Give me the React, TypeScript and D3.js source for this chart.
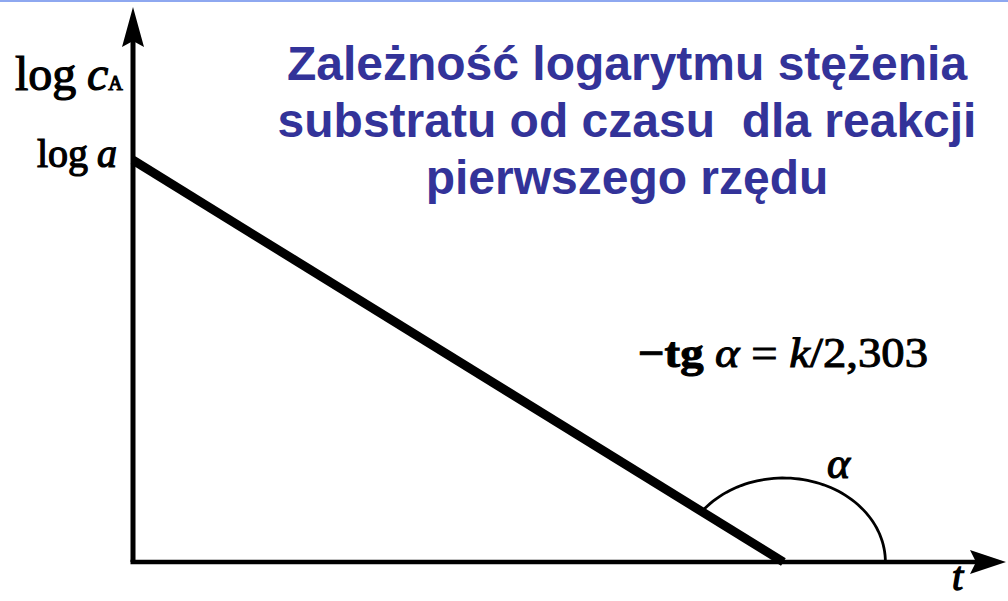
import React from 'react';
import * as d3 from 'd3';

const W = 1008;
const H = 601;

// axis extents (arbitrary units, origin at 0)
const axisDomainT = [0, 10];
const axisDomainLogC = [0, 10];

// first-order decay line: log c_A vs t
const lineT = [0, 7.45];
const lineLogC = [7.24, 0];

const titleLines = [
  'Zależność logarytmu stężenia',
  'substratu od czasu  dla reakcji',
  'pierwszego rzędu',
];

const x = d3.scaleLinear().domain(axisDomainT).range([133, 1006]);
const y = d3.scaleLinear().domain(axisDomainLogC).range([562, 7]);

const serif = '"Liberation Serif", "DejaVu Serif", serif';
const sans = '"Liberation Sans", Arial, sans-serif';

export default function App() {
  const pts: [number, number][] = lineT.map((t, i) => [x(t), y(lineLogC[i])]);
  const decay = d3.line()(pts);

  const ox = x(0), oy = y(0);
  const tipX = x(axisDomainT[1]), tipY = y(axisDomainLogC[1]);

  // angle mark: elliptical arc around the x-intercept, from the line down to the t axis
  const cx = x(lineT[1]), cy = y(0);
  const rx = 102, ry = 84;
  const slope = (pts[1][1] - pts[0][1]) / (pts[1][0] - pts[0][0]);
  const u = 1 / Math.sqrt(1 / (rx * rx) + (slope * slope) / (ry * ry));
  const thetaMax = Math.atan2((slope * u) / ry, -u / rx);
  const arcPts: [number, number][] = d3.range(0, 61).map(i => {
    const th = (thetaMax * i) / 60;
    return [cx + rx * Math.cos(th), cy - ry * Math.sin(th)];
  });
  const arcPath = d3.line()(arcPts);

  return (
    <svg width={W} height={H} style={{ position: 'absolute', left: 0, top: 0, background: '#fff' }}>
      <rect x={0} y={0} width={W} height={2} fill="#8ea8f0" />

      {/* axes */}
      <line x1={ox} y1={oy} x2={ox} y2={tipY + 30} stroke="#000" strokeWidth={5} />
      <line x1={ox - 2.5} y1={oy} x2={tipX - 25} y2={oy} stroke="#000" strokeWidth={4.5} />
      <path d={`M${ox},${tipY} L${ox + 11},${tipY + 40} L${ox},${tipY + 34} L${ox - 11},${tipY + 40} Z`} fill="#000" />
      <path d={`M${tipX},${oy} L${tipX - 36},${oy - 12} L${tipX - 30},${oy} L${tipX - 36},${oy + 12} Z`} fill="#000" />

      {/* decay line */}
      <path d={decay ?? ''} stroke="#000" strokeWidth={9} fill="none" />

      {/* angle arc */}
      <path d={arcPath ?? ''} stroke="#000" strokeWidth={2.8} fill="none" />

      {/* labels */}
      <text x={15} y={90} fontFamily={serif} fontSize={48} fill="#000" stroke="#000" strokeWidth={1.2}>
        <tspan>log</tspan>
        <tspan x={87} fontStyle="italic">c</tspan>
        <tspan fontSize={20}>A</tspan>
      </text>
      <text x={37} y={167} fontFamily={serif} fontSize={40} fill="#000" stroke="#000" strokeWidth={1.2}>
        <tspan>log</tspan>
        <tspan x={97} fontStyle="italic">a</tspan>
      </text>
      <text x={638} y={367} fontFamily={serif} fontSize={42} fill="#000" stroke="#000" strokeWidth={1}
        textLength={290} lengthAdjust="spacingAndGlyphs">
        <tspan fontWeight="bold">−tg </tspan>
        <tspan fontStyle="italic">α</tspan>
        <tspan> = </tspan>
        <tspan fontStyle="italic">k</tspan>
        <tspan>/2,303</tspan>
      </text>
      <text x={827} y={478} fontFamily={serif} fontSize={44} fontStyle="italic" fill="#000" stroke="#000" strokeWidth={1.2}>α</text>
      <text x={952} y={590} fontFamily={serif} fontSize={40} fontStyle="italic" fill="#000" stroke="#000" strokeWidth={1.4}>t</text>

      {/* title */}
      <g fontFamily={sans} fontWeight="bold" fontSize={48} fill="#333399" textAnchor="middle">
        {titleLines.map((s, i) => (
          <text key={i} x={627} y={80 + i * 57} style={{ whiteSpace: 'pre' }}>{s}</text>
        ))}
      </g>
    </svg>
  );
}
